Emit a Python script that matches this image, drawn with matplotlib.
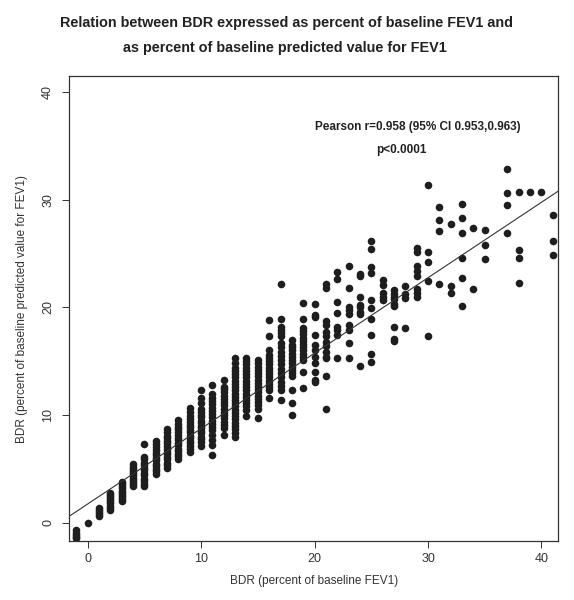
import matplotlib
matplotlib.use('Agg')
import matplotlib.pyplot as plt
import numpy as np

plt.rcParams['font.family'] = ['Liberation Sans', 'DejaVu Sans']

# BDR as % of baseline FEV1 (x) and, per column, BDR as % of predicted FEV1 (y)
bdr_fev1 = [-1, 0, 1, 2, 3, 4, 5, 6, 7, 8, 9, 10, 11, 12, 13, 14, 15, 16, 17, 18, 19, 20,
            21, 22, 23, 24, 25, 26, 27, 28, 29, 30, 31, 32, 33, 34, 35, 37, 38, 39, 40, 41]
bdr_pred = [
    [-0.7, -0.9, -1.1, -1.3, -1.4],
    [0.0],
    [0.6, 0.8, 1.0, 1.2, 1.4],
    [1.2, 1.4, 1.6, 1.8, 2.0, 2.2, 2.4, 2.6, 2.8],
    [2.0, 2.2, 2.4, 2.6, 2.8, 3.0, 3.2, 3.4, 3.6, 3.8],
    [3.4, 3.6, 3.8, 4.0, 4.2, 4.4, 4.6, 4.8, 5.0, 5.2, 5.5],
    [3.4, 3.6, 3.9, 4.1, 4.4, 4.6, 4.9, 5.1, 5.4, 5.6, 5.9, 6.15, 7.3],
    [4.5, 4.8, 5.0, 5.3, 5.5, 5.8, 6.0, 6.3, 6.5, 6.8, 7.0, 7.3, 7.6],
    [5.1, 5.4, 5.6, 5.9, 6.1, 6.4, 6.6, 6.9, 7.1, 7.4, 7.6, 7.9, 8.1, 8.4, 8.7],
    [5.9, 6.2, 6.4, 6.7, 6.9, 7.2, 7.4, 7.7, 7.9, 8.2, 8.4, 8.7, 8.9, 9.2, 9.55],
    [6.6, 6.9, 7.1, 7.4, 7.6, 7.9, 8.1, 8.4, 8.6, 8.9, 9.1, 9.4, 9.6, 9.9, 10.3, 10.7],
    [7.1, 7.5, 7.8, 8.0, 8.3, 8.5, 8.8, 9.0, 9.3, 9.5, 9.8, 10.0, 10.3, 10.6, 11.1, 11.6, 12.3],
    [6.3, 7.2, 7.7, 8.2, 8.6, 8.9, 9.2, 9.5, 9.8, 10.1, 10.4, 10.7, 11.0, 11.3, 11.6, 12.0, 12.8],
    [8.2, 8.8, 9.1, 9.4, 9.7, 10.0, 10.3, 10.6, 10.9, 11.2, 11.5, 11.8, 12.1, 12.4, 12.6, 13.3],
    [8.0, 8.3, 8.7, 9.0, 9.3, 9.6, 9.9, 10.2, 10.5, 10.8, 11.1, 11.4, 11.7, 12.0, 12.3, 12.6,
     12.9, 13.2, 13.5, 13.8, 14.1, 14.4, 14.8, 15.3],
    [9.9, 10.5, 10.8, 11.1, 11.4, 11.7, 12.0, 12.3, 12.6, 12.9, 13.2, 13.5, 13.8, 14.1, 14.4,
     14.7, 15.0, 15.3],
    [9.7, 10.6, 10.9, 11.2, 11.5, 11.8, 12.1, 12.4, 12.7, 13.0, 13.3, 13.6, 13.9, 14.2, 14.5,
     14.8, 15.1],
    [11.6, 12.3, 12.6, 12.9, 13.2, 13.5, 13.8, 14.1, 14.4, 14.7, 15.0, 15.3, 15.6, 16.0, 17.3, 18.8],
    [11.4, 12.3, 12.7, 13.1, 13.5, 13.9, 14.3, 14.7, 15.1, 15.5, 15.9, 16.3, 16.7, 17.3, 17.6,
     17.9, 18.2, 18.9, 22.2],
    [10.0, 11.1, 12.3, 13.6, 13.9, 14.2, 14.5, 14.8, 15.1, 15.4, 15.7, 16.0, 16.3, 16.5, 17.0],
    [12.5, 14.0, 15.1, 15.4, 15.7, 16.0, 16.3, 16.6, 16.9, 17.2, 17.5, 17.8, 18.1, 18.9, 20.4],
    [13.1, 13.3, 14.0, 14.8, 15.4, 16.0, 16.5, 17.4, 19.1, 19.3, 20.3],
    [10.6, 13.6, 15.3, 15.4, 15.9, 16.4, 16.8, 17.3, 17.7, 18.4, 18.7, 21.8, 22.2],
    [15.3, 17.4, 17.9, 18.2, 19.5, 20.5, 22.6, 23.3],
    [15.3, 16.7, 17.9, 18.4, 19.4, 19.8, 20.0, 21.8, 23.8],
    [14.6, 19.4, 19.6, 20.0, 20.2, 21.0, 22.9, 23.1],
    [14.9, 15.7, 17.4, 18.9, 19.9, 20.7, 23.2, 23.7, 25.4, 26.2],
    [20.7, 21.0, 21.3, 22.1, 22.5],
    [16.9, 17.1, 18.2, 20.1, 20.3, 20.8, 21.0, 21.2, 21.6],
    [18.1, 20.9, 21.2, 22.0],
    [21.0, 21.3, 21.7, 22.9, 23.4, 23.8, 25.1, 25.5],
    [17.3, 22.4, 24.2, 25.1, 31.4],
    [22.2, 27.1, 28.1, 29.3],
    [21.3, 22.0, 27.7],
    [20.1, 22.7, 24.6, 26.9, 28.3, 29.6],
    [21.7, 27.4],
    [24.5, 25.8, 27.2],
    [26.9, 29.5, 30.6, 32.8],
    [22.3, 24.6, 25.3, 30.7],
    [30.7],
    [30.7],
    [24.9, 26.2, 28.6],
]

# regression line
fit_intercept = 1.75
fit_slope = 0.70

x = np.concatenate([[xv] * len(ys) for xv, ys in zip(bdr_fev1, bdr_pred)])
y = np.concatenate(bdr_pred)

fig = plt.figure(figsize=(5.74, 6.0), dpi=100)
ax = fig.add_axes([0.121, 0.098, 0.851, 0.775])

ax.scatter(x, y, s=30, color='#1e1e1e', linewidths=0, zorder=2)
ax.axline((0, fit_intercept), slope=fit_slope, color='#333333', lw=0.8, zorder=3)

ax.set_xlim(-1.6, 41.45)
ax.set_ylim(-1.7, 41.45)
ax.set_xticks([0, 10, 20, 30, 40])
ax.set_yticks([0, 10, 20, 30, 40])
ax.tick_params(labelsize=9, labelcolor='#333333', color='#333333', length=5, width=0.7)
ax.tick_params(axis='y', pad=6)
for lab in ax.get_yticklabels():
    lab.set_rotation(90)
    lab.set_va('center')
for sp in ax.spines.values():
    sp.set_color('#333333')
    sp.set_linewidth(0.9)

ax.set_xlabel('BDR (percent of baseline FEV1)', fontsize=8.5, color='#333333', labelpad=7)
ax.set_ylabel('BDR (percent of baseline predicted value for FEV1)', fontsize=8.5,
              color='#333333', labelpad=10)

ax.text(29.1, 36.7, 'Pearson r=0.958 (95% CI 0.953,0.963)', fontsize=8.5,
        fontweight='bold', ha='center', va='center', color='#222222')
ax.text(27.7, 34.6, 'p<0.0001', fontsize=8.5, fontweight='bold', ha='center',
        va='center', color='#222222')

fig.text(0.5, 0.962, 'Relation between BDR expressed as percent of baseline FEV1 and',
         fontsize=10.4, fontweight='bold', ha='center', va='center', color='#222222')
fig.text(0.497, 0.920, 'as percent of baseline predicted value for FEV1',
         fontsize=10.4, fontweight='bold', ha='center', va='center', color='#222222')

fig.savefig('out.png', dpi=100)
